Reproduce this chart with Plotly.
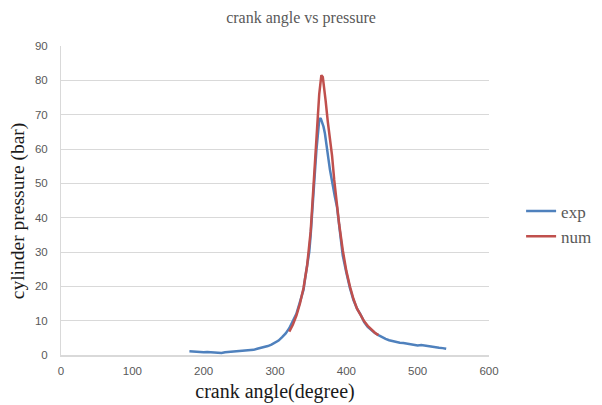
import plotly.graph_objects as go

# Experimental cylinder pressure (bar) vs crank angle (degree)
exp_angle = [180, 185, 190, 195, 200, 205, 210, 215, 220, 225, 230, 235, 240, 245,
             250, 255, 260, 265, 270, 275, 280, 285, 290, 295, 300, 305, 310, 315,
             320, 325, 330, 335, 340, 342, 345, 348, 350, 352, 354, 356, 358, 360,
             362, 364, 366, 368, 370, 372, 375, 377, 380, 384, 387, 390, 393, 395,
             400, 405, 410, 415, 420, 425, 430, 435, 440, 445, 450, 455, 460, 465,
             470, 475, 480, 485, 490, 495, 500, 505, 510, 515, 520, 525, 530, 535, 540]
exp_pressure = [1.1, 1.0, 0.9, 1.0, 0.8, 0.9, 0.8, 0.7, 0.5, 0.6, 0.8, 0.9, 1.0, 1.0,
                1.1, 1.2, 1.3, 1.3, 1.5, 1.8, 2.0, 2.2, 2.6, 3.0, 3.5, 4.2, 5.2, 6.3,
                7.8, 9.8, 12.0, 15.5, 19.0, 22.0, 26.0, 30.0, 35.0, 41.0, 50.0, 55.0, 59.5, 64.0,
                68.5, 69.0, 68.0, 66.5, 64.5, 62.0, 57.0, 54.0, 50.0, 46.0, 43.0, 38.0, 32.0, 29.0,
                24.0, 19.5, 16.0, 13.5, 11.8, 9.6, 8.2, 7.2, 6.4, 5.8, 5.2, 4.7, 4.3, 4.0,
                3.8, 3.6, 3.5, 3.3, 3.0, 2.9, 2.8, 2.9, 2.7, 2.6, 2.5, 2.3, 2.1, 2.0, 1.8]

# Numerical (simulated) cylinder pressure
num_angle = [320, 325, 330, 335, 340, 345, 350, 353, 356, 359, 362, 365, 367, 369,
             371, 374, 377, 380, 383, 386, 390, 395, 400, 405, 410, 415, 420, 425,
             430, 435, 440, 445]
num_pressure = [6.8, 8.8, 11.5, 15.0, 19.5, 26.0, 36.0, 45.0, 55.0, 66.0, 76.0, 81.5, 81.0, 78.0,
                74.0, 68.0, 63.0, 58.0, 51.0, 45.0, 38.0, 30.5, 24.5, 20.0, 16.3, 13.5, 11.5, 9.8,
                8.5, 7.4, 6.5, 5.8]

x_ticks = [0, 100, 200, 300, 400, 500, 600]
y_ticks = [0, 10, 20, 30, 40, 50, 60, 70, 80, 90]

fig = go.Figure()
fig.add_trace(go.Scatter(x=exp_angle, y=exp_pressure, mode="lines", name="exp",
                         line=dict(color="#4F81BD", width=2.5)))
fig.add_trace(go.Scatter(x=num_angle, y=num_pressure, mode="lines", name="num",
                         line=dict(color="#C0504D", width=2.5)))

serif = "Liberation Serif, Times New Roman, serif"
sans = "Liberation Sans, Arial, sans-serif"

fig.update_layout(
    width=602, height=405,
    margin=dict(l=61, r=113, t=46, b=50, autoexpand=False),
    paper_bgcolor="white", plot_bgcolor="white",
    title=dict(text="crank angle vs pressure", x=0.5, xanchor="center",
               y=0.958, yanchor="middle",
               font=dict(family=serif, size=16, color="#595959")),
    xaxis=dict(range=[0, 600], tickvals=x_ticks, showgrid=False,
               showline=True, linecolor="#D9D9D9", linewidth=1.5,
               ticks="", ticklabelstandoff=4,
               tickfont=dict(family=sans, size=11.5, color="#595959"),
               title=dict(text="crank angle(degree)", standoff=8,
                          font=dict(family=serif, size=20, color="#1a1a1a")),
               zeroline=False),
    yaxis=dict(range=[0, 90], tickvals=y_ticks, showgrid=True, gridcolor="#D9D9D9",
               gridwidth=1, showline=True, linecolor="#D9D9D9", linewidth=1,
               ticks="", ticklabelstandoff=10,
               tickfont=dict(family=sans, size=11.5, color="#595959"),
               zeroline=False),
    legend=dict(x=1.075, xanchor="left", y=0.424, yanchor="middle",
                font=dict(family=serif, size=17, color="#595959"),
                bgcolor="rgba(0,0,0,0)", tracegroupgap=4),
    showlegend=True,
    annotations=[dict(text="cylinder pressure (bar)", textangle=-90,
                      xref="paper", yref="paper", x=-0.1, y=0.466,
                      xanchor="center", yanchor="middle", showarrow=False,
                      font=dict(family=serif, size=19.5, color="#1a1a1a"))],
)

fig.write_html("out.html")
